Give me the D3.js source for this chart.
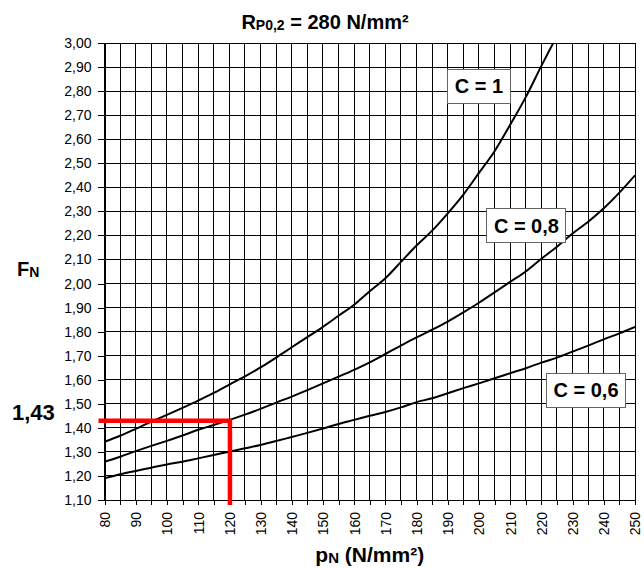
<!DOCTYPE html>
<html><head><meta charset="utf-8">
<script src="https://cdn.jsdelivr.net/npm/d3@7"></script>
<style>body{margin:0;background:#fff}svg{display:block;font-family:"Liberation Sans",Arial,sans-serif}</style>
</head><body><svg id="c" width="644" height="568"></svg>
<script>
const pN = [80,85,90,95,100,105,110,115,120,125,130,135,140,145,150,155,160,165,170,175,180,185,190,195,200,205,210,215,220,225,230,235,240,245,250];
const fnC1 = [1.342,1.367,1.396,1.426,1.454,1.483,1.513,1.545,1.580,1.614,1.651,1.692,1.735,1.777,1.820,1.866,1.912,1.968,2.022,2.090,2.158,2.220,2.292,2.370,2.460,2.550,2.660,2.775,2.905,3.030,null,null,null,null,null];
const fnC08 = [1.259,1.280,1.303,1.325,1.346,1.368,1.392,1.412,1.433,1.455,1.479,1.505,1.530,1.557,1.585,1.613,1.641,1.672,1.707,1.742,1.776,1.808,1.842,1.880,1.920,1.963,2.007,2.050,2.103,2.153,2.208,2.257,2.313,2.378,2.450];
const fnC06 = [1.190,1.207,1.221,1.234,1.248,1.259,1.273,1.287,1.301,1.315,1.329,1.345,1.362,1.379,1.397,1.416,1.433,1.450,1.466,1.485,1.507,1.523,1.544,1.565,1.585,1.606,1.627,1.648,1.671,1.692,1.717,1.742,1.768,1.793,1.820];
const seriesNames = ["C = 1","C = 0,8","C = 0,6"];
const xTicks = d3.range(80, 251, 10);
const xGrid = d3.range(80, 251, 5);
const yTicks = d3.range(0, 20).map(i => +(1.1 + i*0.1).toFixed(2));
const markerP = 120.2, markerF = 1.43, markerLabel = "1,43";

const svg = d3.select("#c");
const x = d3.scaleLinear().domain([80,250]).range([104.5,635]);
const y = d3.scaleLinear().domain([1.1,3.0]).range([500,43]);
const fmt = v => d3.format(".2f")(v).replace(".", ",");

// grid
const g = svg.append("g").attr("shape-rendering","crispEdges");
g.selectAll(".vg").data(xGrid).join("line")
  .attr("x1",d=>x(d)).attr("x2",d=>x(d)).attr("y1",y(1.1)).attr("y2",y(3.0))
  .attr("stroke","#000").attr("stroke-width",1);
g.selectAll(".hg").data(yTicks).join("line")
  .attr("x1",x(80)).attr("x2",x(250)).attr("y1",d=>y(d)).attr("y2",d=>y(d))
  .attr("stroke","#000").attr("stroke-width",1);

// axes
const yAxis = d3.axisLeft(y).tickValues(yTicks).tickSize(7).tickPadding(6).tickFormat(fmt);
const ya = svg.append("g").attr("transform",`translate(${x(80)},0)`).call(yAxis);
ya.select(".domain").attr("stroke","#000").attr("shape-rendering","crispEdges");
ya.selectAll(".tick line").attr("shape-rendering","crispEdges");
ya.selectAll("text").attr("font-size",14).attr("font-family","Liberation Sans, Arial").attr("fill","#000");

const xAxis = d3.axisBottom(x).tickValues(xGrid).tickSize(5).tickFormat(d => xTicks.includes(d) ? d : "");
const xa = svg.append("g").attr("transform",`translate(0,${y(1.1)})`).call(xAxis);
xa.select(".domain").attr("stroke","#000").attr("shape-rendering","crispEdges");
xa.selectAll(".tick line").attr("shape-rendering","crispEdges");
xa.selectAll("text").attr("font-size",14).attr("font-family","Liberation Sans, Arial").attr("fill","#000")
  .attr("transform","rotate(-90)").attr("text-anchor","end").attr("x",-12).attr("y",0).attr("dy","0.35em");

// curves
svg.append("defs").append("clipPath").attr("id","clip").append("rect")
  .attr("x",x(80)).attr("y",y(3.0)).attr("width",x(250)-x(80)).attr("height",y(1.1)-y(3.0));
const line = d3.line().defined(d=>d[1]!=null).x(d=>x(d[0])).y(d=>y(d[1])).curve(d3.curveMonotoneX);
[fnC1, fnC08, fnC06].forEach(arr => {
  svg.append("path").attr("clip-path","url(#clip)")
    .attr("d", line(pN.map((p,i)=>[p,arr[i]])))
    .attr("fill","none").attr("stroke","#000").attr("stroke-width",2);
});

// red marker
svg.append("path")
  .attr("d",`M${x(80)-6},${y(markerF)}L${x(markerP)},${y(markerF)}L${x(markerP)},${y(1.1)+5}`)
  .attr("fill","none").attr("stroke","#ff0000").attr("stroke-width",4.5).attr("stroke-linejoin","miter");

// series labels
const labelPos = [[200,2.82],[215.2,2.24],[234.3,1.557]];
seriesNames.forEach((name,i) => {
  const cx = x(labelPos[i][0]), cy = y(labelPos[i][1]);
  const grp = svg.append("g");
  const t = grp.append("text").attr("x",cx).attr("y",cy).attr("text-anchor","middle").attr("dy","0.35em")
    .attr("font-size",20).attr("font-weight","bold").text(name);
  const w = t.node().getComputedTextLength();
  grp.insert("rect","text").attr("x",cx-w/2-7).attr("y",cy-17).attr("width",w+14).attr("height",34)
    .attr("fill","#fff").attr("stroke","#666").attr("stroke-width",1).attr("shape-rendering","crispEdges");
});

// titles
const title = svg.append("text").attr("x",325).attr("y",29).attr("text-anchor","middle")
  .attr("font-size",20).attr("font-weight","bold");
title.append("tspan").text("R");
title.append("tspan").attr("font-size",14).attr("dy",1).text("P0,2");
title.append("tspan").attr("dy",-1).text(" = 280 N/mm²");

const xt = svg.append("text").attr("x",x(80)+(x(250)-x(80))/2).attr("y",562).attr("text-anchor","middle")
  .attr("font-size",21).attr("font-weight","bold");
xt.append("tspan").text("p");
xt.append("tspan").attr("font-size",15).attr("dy",1).text("N");
xt.append("tspan").attr("dy",-1).text(" (N/mm²)");

const yt = svg.append("text").attr("x",17).attr("y",276).attr("font-size",20).attr("font-weight","bold");
yt.append("tspan").text("F");
yt.append("tspan").attr("font-size",14).attr("dy",1).text("N");

svg.append("text").attr("x",12).attr("y",420).attr("font-size",22).attr("font-weight","bold").text(markerLabel);
</script></body></html>
